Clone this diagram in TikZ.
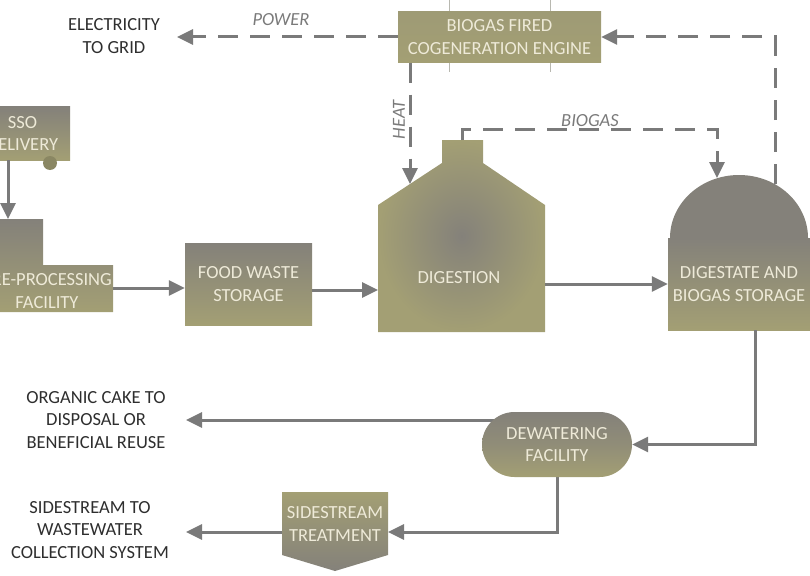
\documentclass[tikz,border=0pt]{standalone}
\usepackage{fontspec}
\setmainfont{Carlito}
\usetikzlibrary{arrows.meta,shapes.misc,shapes.geometric}
\definecolor{olive}{HTML}{A39F74}
\definecolor{slate}{HTML}{84817A}
\definecolor{cream}{HTML}{EEEAD8}
\definecolor{flow}{HTML}{7A7A7A}
\definecolor{ink}{HTML}{2E2E2E}
\definecolor{guide}{HTML}{B8B8B0}
\pgfdeclarelayer{bg}
\pgfsetlayers{bg,main}
\begin{document}
\begin{tikzpicture}[x=1pt,y=-1pt,
  unitbox/.style={rectangle, top color=slate, bottom color=olive, draw=none, text=cream,
    font=\fontsize{18.5}{22.5}\selectfont, align=center, inner sep=0pt},
  boxtext/.style={text=cream, font=\fontsize{18.5}{22.5}\selectfont, align=center, inner sep=0pt},
  lbl/.style={text=ink, font=\fontsize{18.5}{22.5}\selectfont, align=center, inner sep=0pt},
  ital/.style={text=flow, font=\itshape\fontsize{18.5}{20}\selectfont, inner sep=0pt},
  flowline/.style={draw=flow, line width=3pt, -{Triangle[length=16pt,width=15pt]}},
  gasline/.style={flowline, dash pattern=on 20pt off 12pt}]
\useasboundingbox (0,0) rectangle (810,575);
\clip (0,0) rectangle (810,575);

% guide lines through the engine box
\draw[guide, line width=0.8pt] (449,0) -- (449,72);
\draw[guide, line width=0.8pt] (550,0) -- (550,72);

% SSO delivery
\node[unitbox, minimum width=95pt, minimum height=53pt] (sso) at (22.5,133.5) {SSO\\DELIVERY};
\fill[olive!85!black] (50,163) circle (7pt);

% Pre-processing facility
\shade[top color=slate, bottom color=olive] (-30,219) -- (43,219) -- (43,265) -- (113,265) -- (113,312) -- (-30,312) -- cycle;
\node[boxtext] (pre) at (47,291) {PRE-PROCESSING\\FACILITY};
\coordinate (preIn) at (8,219);
\coordinate (preOut) at (113,288);

% Food waste storage
\node[unitbox, minimum width=127pt, minimum height=82pt] (food) at (248.5,284) {FOOD WASTE\\STORAGE};

% Digestion
\shade[inner color=slate, outer color=olive] (378,332) -- (378,205) -- (442,163) -- (442,140) -- (483,140) -- (483,163) -- (545,205) -- (545,332) -- cycle;
\node[boxtext] (dig) at (459,278) {DIGESTION};
\coordinate (digIn) at (378,290);
\coordinate (digOut) at (545,284);
\coordinate (digTop) at (462,140);
\coordinate (digRoof) at (410,184);

% Digestate and biogas storage
\fill[slate] (670,238) arc[start angle=180, end angle=0, x radius=69pt, y radius=63pt] -- cycle;
\node[unitbox, minimum width=142pt, minimum height=92pt] (dstore) at (739,284) {DIGESTATE AND\\BIOGAS STORAGE};
\coordinate (domeTop) at (717,178);
\coordinate (domeRight) at (775,184);

% Biogas fired cogeneration engine
\node[unitbox, minimum width=203pt, minimum height=51pt, top color=olive!85!slate, bottom color=olive] (eng) at (499.5,37) {BIOGAS FIRED\\COGENERATION ENGINE};

% Dewatering facility
\node[rounded rectangle, minimum width=150pt, minimum height=65pt, inner sep=0pt,
  top color=slate, bottom color=olive, middle color=slate!60!olive, text=cream,
  font=\fontsize{18.5}{22.5}\selectfont, align=center] (dew) at (557,444.5) {DEWATERING\\FACILITY};

% Sidestream treatment
\shade[top color=olive, bottom color=slate] (282,492) -- (388,492) -- (388,555) -- (335,571) -- (282,555) -- cycle;
\node[boxtext] (side) at (335,524) {SIDESTREAM\\TREATMENT};
\coordinate (sideE) at (388,532);
\coordinate (sideW) at (282,532);

% Outside labels
\node[lbl] (grid) at (114,36) {ELECTRICITY\\TO GRID};
\node[lbl] (cake) at (96,420) {ORGANIC CAKE TO\\DISPOSAL OR\\BENEFICIAL REUSE};
\node[lbl] (ww) at (90,530) {SIDESTREAM TO\\WASTEWATER\\COLLECTION SYSTEM};
\coordinate (gridEnd) at (177,37);
\coordinate (cakeEnd) at (186,420);
\coordinate (wwEnd) at (186,532);

% Connectors
\draw[flowline] (sso.south -| preIn) -- (preIn);
\draw[flowline] (preOut) -- (preOut -| food.west);
\draw[flowline] (food.east |- digIn) -- (digIn);
\draw[flowline] (digOut) -- (digOut -| dstore.west);
\draw[flowline] (dstore.south -| 755,0) |- (dew.east);
\begin{pgfonlayer}{bg}
\draw[flowline] (dew.center |- cakeEnd) -- (cakeEnd);
\draw[flowline] (dew.center) |- (sideE);
\draw[flowline] (side.center |- wwEnd) -- (wwEnd);
\end{pgfonlayer}
\draw[gasline] (digTop) -- ++(0,-11) -| (domeTop);
\draw[gasline] (domeRight) |- (eng.east);
\draw[gasline] (eng.west) -- (gridEnd);
\draw[gasline] (eng.south -| digRoof) -- (digRoof);

% Flow labels
\node[ital] (lpower) at (281,20) {POWER};
\node[ital] (lbiogas) at (590,121) {BIOGAS};
\node[ital, rotate=90] (lheat) at (399,120) {HEAT};
\end{tikzpicture}
\end{document}
